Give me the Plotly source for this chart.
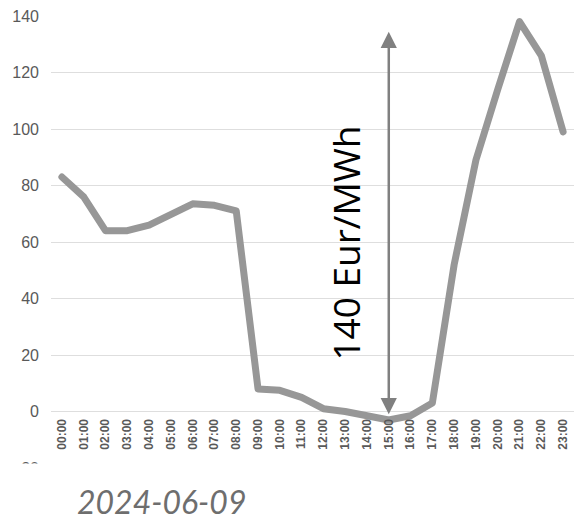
import plotly.graph_objects as go

hours = [f"{h:02d}:00" for h in range(24)]
prices = [83, 76, 64, 64, 66, 70, 73.5, 73, 71, 8, 7.5, 5, 1, 0, -1.5, -3, -1.5, 3, 52, 89, 114, 138, 126, 99]
y_ticks = [-20, 0, 20, 40, 60, 80, 100, 120, 140]
span_label = "140 Eur/MWh"
date_label = "2024-06-09"
arrow_idx = 15
arrow_bottom = -1
arrow_top = 135

W, H = 574, 523
top, bottom_px = 16, 468.5
left = 51
plot_h = bottom_px - top
plot_w = W - left
zero_pos = (bottom_px - 412) / plot_h


def py(px):
    return (bottom_px - px) / plot_h


def pxx(px):
    return (px - left) / plot_w


fig = go.Figure()
fig.add_trace(go.Scatter(
    x=list(range(len(hours))), y=prices, mode="lines",
    line=dict(color="#979797", width=7), hoverinfo="skip", showlegend=False,
))

fig.update_layout(
    width=W, height=H,
    margin=dict(l=left, r=0, t=top, b=H - bottom_px, autoexpand=False),
    paper_bgcolor="white", plot_bgcolor="white",
    showlegend=False,
    xaxis=dict(
        range=[-0.5, 23.5], tickmode="array", tickvals=list(range(24)), ticktext=hours,
        tickangle=-90, showgrid=False, zeroline=False, showline=False, ticks="",
        anchor="free", position=zero_pos, automargin=False, ticklabelstandoff=4,
        tickfont=dict(family="Liberation Sans, Arial", size=12, color="#595959", weight="bold"),
    ),
    yaxis=dict(
        range=[-20, 140], tickmode="array", tickvals=y_ticks, automargin=False,
        showgrid=True, gridcolor="#dedede", gridwidth=1, zeroline=False, showline=False,
        ticks="", ticklabelstandoff=11,
        tickfont=dict(family="Liberation Sans, Arial", size=16, color="#595959"),
    ),
    shapes=[dict(type="rect", xref="paper", yref="paper", x0=-0.2, x1=1.1,
                 y0=-0.3, y1=py(464),
                 fillcolor="white", line=dict(width=0), layer="above")],
    annotations=[
        dict(x=arrow_idx, y=arrow_bottom, ax=arrow_idx, ay=arrow_top, xref="x", yref="y",
             axref="x", ayref="y", text="", showarrow=True, arrowhead=2, arrowside="end+start",
             arrowsize=1.3, arrowwidth=2.5, arrowcolor="#808080"),
        dict(x=13.0, y=59.5, xref="x", yref="y", text=span_label, showarrow=False,
             textangle=-90, font=dict(family="Open Sans", size=37, color="black")),
        dict(x=pxx(161), y=py(502), xref="paper", yref="paper", yanchor="middle",
             xanchor="center", text=date_label, showarrow=False,
             font=dict(family="Lato", size=32, color="#6e6e6e", style="italic")),
    ],
)

post = """
document.body.style.margin='0';
document.documentElement.style.margin='0';
function fixJoins(){document.querySelectorAll('.js-line').forEach(function(p){p.style.strokeLinejoin='round';p.style.strokeLinecap='round';});}
fixJoins(); setTimeout(fixJoins, 100);
"""
fig.write_html("out.html", post_script=post, config={"displayModeBar": False})
